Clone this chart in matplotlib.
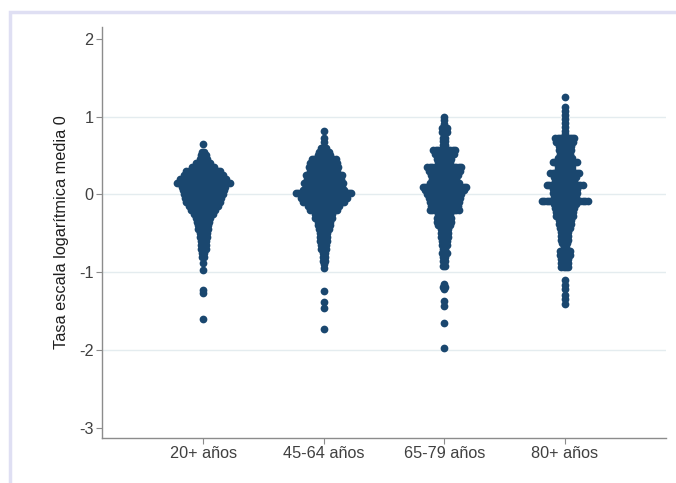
import matplotlib.pyplot as plt
import numpy as np
from matplotlib.patches import Rectangle

# categorias
groups = ["20+ años", "45-64 años", "65-79 años", "80+ años"]

# filas del dotplot: valor (y) y numero de puntos en la fila
g1_y = [0.65, 0.55, 0.50, 0.45, 0.40, 0.35, 0.30, 0.25, 0.20, 0.15, 0.10, 0.05, 0.00,
        -0.05, -0.10, -0.15, -0.20, -0.25, -0.30, -0.35, -0.40, -0.45, -0.50, -0.55,
        -0.60, -0.65, -0.70, -0.75, -0.80, -0.88, -0.97, -1.23, -1.27, -1.60]
g1_n = [1, 2, 3, 4, 7, 10, 15, 17, 20, 23, 19, 18, 17,
        16, 15, 13, 11, 9, 7, 6, 5, 5, 4, 4,
        3, 3, 3, 2, 2, 1, 1, 1, 1, 1]

g2_y = [0.82, 0.72, 0.67, 0.60, 0.55, 0.50, 0.45, 0.40, 0.35, 0.30, 0.25, 0.20, 0.15,
        0.10, 0.05, 0.02, -0.05, -0.10, -0.15, -0.20, -0.25, -0.30, -0.35, -0.40,
        -0.45, -0.50, -0.55, -0.60, -0.65, -0.70, -0.75, -0.80, -0.85, -0.90, -0.95,
        -1.24, -1.38, -1.46, -1.73]
g2_n = [1, 1, 1, 3, 5, 6, 11, 12, 13, 12, 16, 15, 17,
        16, 18, 24, 20, 18, 14, 12, 8, 8, 6, 6,
        5, 4, 4, 4, 3, 3, 2, 2, 2, 1, 1,
        1, 1, 1, 1]

g3_y = [0.99, 0.95, 0.91, 0.85, 0.80, 0.73, 0.68, 0.63, 0.57, 0.52, 0.46, 0.41, 0.35,
        0.30, 0.25, 0.20, 0.15, 0.10, 0.05, 0.00, -0.05, -0.10, -0.15, -0.20, -0.25,
        -0.30, -0.35, -0.40, -0.45, -0.50, -0.55, -0.60, -0.65, -0.70, -0.75, -0.80,
        -0.86, -0.92, -1.15, -1.19, -1.22, -1.37, -1.43, -1.65, -1.97]
g3_n = [1, 1, 1, 3, 3, 2, 2, 2, 10, 9, 7, 6, 15,
        14, 12, 11, 13, 19, 17, 15, 14, 13, 12, 13, 6,
        7, 7, 6, 4, 4, 4, 3, 3, 2, 3, 2,
        2, 2, 1, 2, 1, 1, 1, 1, 1]

g4_y = [1.25, 1.12, 1.07, 1.02, 0.97, 0.92, 0.87, 0.82, 0.78, 0.72, 0.67, 0.62, 0.57,
        0.52, 0.47, 0.42, 0.37, 0.32, 0.27, 0.22, 0.17, 0.12, 0.07, 0.02, -0.03,
        -0.08, -0.13, -0.18, -0.23, -0.28, -0.33, -0.38, -0.43, -0.48, -0.53, -0.58,
        -0.63, -0.68, -0.73, -0.78, -0.83, -0.88, -0.93, -1.10, -1.16, -1.22, -1.29,
        -1.35, -1.41]
g4_n = [1, 1, 1, 1, 1, 1, 1, 1, 1, 9, 8, 6, 6,
        5, 7, 11, 7, 7, 13, 10, 9, 16, 11, 11, 10,
        20, 10, 9, 8, 8, 6, 6, 5, 4, 4, 4,
        3, 2, 5, 5, 4, 4, 4, 1, 1, 1, 1,
        1, 1]

yticks = [-3, -2, -1, 0, 1, 2]

navy = "#1a476f"
dx = 0.02  # separacion horizontal entre puntos de una fila

fig = plt.figure(figsize=(6.76, 4.83), dpi=100)
plt.rcParams["font.family"] = ["Liberation Sans", "DejaVu Sans"]

# marco exterior (borde lila claro)
fig.patches.append(Rectangle((9.5 / 676, -0.1), 1.2, 1.1 - 12.5 / 483,
                             transform=fig.transFigure, fill=False,
                             edgecolor="#dfdff3", linewidth=2.5, zorder=0))

ax = fig.add_axes([102 / 676, 1 - 438 / 483, (666 - 102) / 676, (438 - 27) / 483])

all_y = [g1_y, g2_y, g3_y, g4_y]
all_n = [g1_n, g2_n, g3_n, g4_n]
for i, (ys, ns) in enumerate(zip(all_y, all_n)):
    px, py = [], []
    for y, n in zip(ys, ns):
        offs = (np.arange(n) - (n - 1) / 2) * dx
        px.extend(i + 1 + offs)
        py.extend([y] * n)
    ax.scatter(px, py, s=31, color=navy, linewidths=0, zorder=3)

ax.set_xlim(0.16, 4.84)
ax.set_ylim(-3.13, 2.15)
ax.set_xticks(range(1, 5))
ax.set_xticklabels(groups)
ax.set_yticks(yticks)
ax.set_yticklabels([str(t) for t in yticks])

# rejilla solo en las marcas interiores
for t in yticks[1:-1]:
    ax.axhline(t, color="#e4ecef", linewidth=1, zorder=1)

for s in ["top", "right"]:
    ax.spines[s].set_visible(False)
for s in ["left", "bottom"]:
    ax.spines[s].set_color("#8c8c8c")
    ax.spines[s].set_linewidth(1)

ax.tick_params(colors="#8c8c8c", length=4, width=0.8, labelsize=11.7,
               labelcolor="#404040", pad=2)
ax.set_ylabel("Tasa escala logarítmica media 0", fontsize=11.7, color="#1e1e1e",
              labelpad=7)

fig.savefig("out.png", dpi=100)
